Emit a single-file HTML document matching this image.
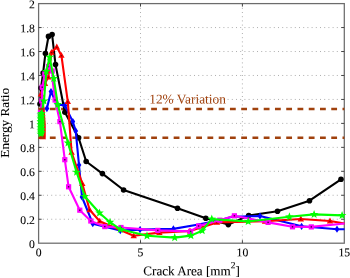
<!DOCTYPE html>
<html><head><meta charset="utf-8"><title>Energy Ratio vs Crack Area</title>
<style>html,body{margin:0;padding:0;background:#fff}svg{display:block}.t{font-family:"Liberation Serif","Times New Roman",serif}</style></head>
<body>
<svg width="350" height="278" viewBox="0 0 350 278">
<rect width="350" height="278" fill="#fff"/>
<g stroke="#a6a6a6" stroke-width="0.9" stroke-dasharray="1 3.2" fill="none">
<line x1="38.6" y1="219.24" x2="344.3" y2="219.24"/>
<line x1="38.6" y1="195.28" x2="344.3" y2="195.28"/>
<line x1="38.6" y1="171.32" x2="344.3" y2="171.32"/>
<line x1="38.6" y1="147.36" x2="344.3" y2="147.36"/>
<line x1="38.6" y1="123.40" x2="344.3" y2="123.40"/>
<line x1="38.6" y1="99.44" x2="344.3" y2="99.44"/>
<line x1="38.6" y1="75.48" x2="344.3" y2="75.48"/>
<line x1="38.6" y1="51.52" x2="344.3" y2="51.52"/>
<line x1="38.6" y1="27.56" x2="344.3" y2="27.56"/>
<line x1="140.50" y1="3.6" x2="140.50" y2="243.2"/>
<line x1="242.40" y1="3.6" x2="242.40" y2="243.2"/>
</g>
<rect x="38.6" y="3.6" width="305.70" height="239.60" fill="none" stroke="#6c6c6c" stroke-width="1.25"/>
<g stroke="#444" stroke-width="1">
<line x1="38.6" y1="219.24" x2="41.6" y2="219.24"/><line x1="344.3" y1="219.24" x2="341.3" y2="219.24"/>
<line x1="38.6" y1="195.28" x2="41.6" y2="195.28"/><line x1="344.3" y1="195.28" x2="341.3" y2="195.28"/>
<line x1="38.6" y1="171.32" x2="41.6" y2="171.32"/><line x1="344.3" y1="171.32" x2="341.3" y2="171.32"/>
<line x1="38.6" y1="147.36" x2="41.6" y2="147.36"/><line x1="344.3" y1="147.36" x2="341.3" y2="147.36"/>
<line x1="38.6" y1="123.40" x2="41.6" y2="123.40"/><line x1="344.3" y1="123.40" x2="341.3" y2="123.40"/>
<line x1="38.6" y1="99.44" x2="41.6" y2="99.44"/><line x1="344.3" y1="99.44" x2="341.3" y2="99.44"/>
<line x1="38.6" y1="75.48" x2="41.6" y2="75.48"/><line x1="344.3" y1="75.48" x2="341.3" y2="75.48"/>
<line x1="38.6" y1="51.52" x2="41.6" y2="51.52"/><line x1="344.3" y1="51.52" x2="341.3" y2="51.52"/>
<line x1="38.6" y1="27.56" x2="41.6" y2="27.56"/><line x1="344.3" y1="27.56" x2="341.3" y2="27.56"/>
<line x1="140.50" y1="243.2" x2="140.50" y2="240.2"/><line x1="140.50" y1="3.6" x2="140.50" y2="6.6"/>
<line x1="242.40" y1="243.2" x2="242.40" y2="240.2"/><line x1="242.40" y1="3.6" x2="242.40" y2="6.6"/>
</g>
<g stroke="#a0410d" stroke-width="2.4" stroke-dasharray="5.8 5.456" fill="none">
<line x1="38.6" y1="109.02" x2="344.3" y2="109.02"/>
<line x1="38.6" y1="137.78" x2="344.3" y2="137.78"/>
</g>
<g fill="#000" stroke="none">
<polyline fill="none" stroke="#000" stroke-width="2.1" stroke-linejoin="round" points="40,104 41,88 43.1,73 45.4,53.5 48.5,36.4 52.1,34.5 55.5,64.6 64.9,112.2 78.6,137.7 86.2,161.5 102.4,173.6 123.6,190.0 177.5,208.3 205.8,218.2 228.3,224.6 248.7,215.5 277.5,211.3 309.5,200.7 341,179.3"/>
<circle cx="40" cy="104" r="2.8"/>
<circle cx="41" cy="88" r="2.8"/>
<circle cx="43.1" cy="73" r="2.8"/>
<circle cx="45.4" cy="53.5" r="2.8"/>
<circle cx="48.5" cy="36.4" r="2.8"/>
<circle cx="52.1" cy="34.5" r="2.8"/>
<circle cx="55.5" cy="64.6" r="2.8"/>
<circle cx="64.9" cy="112.2" r="2.8"/>
<circle cx="78.6" cy="137.7" r="2.8"/>
<circle cx="86.2" cy="161.5" r="2.8"/>
<circle cx="102.4" cy="173.6" r="2.8"/>
<circle cx="123.6" cy="190.0" r="2.8"/>
<circle cx="177.5" cy="208.3" r="2.8"/>
<circle cx="205.8" cy="218.2" r="2.8"/>
<circle cx="228.3" cy="224.6" r="2.8"/>
<circle cx="248.7" cy="215.5" r="2.8"/>
<circle cx="277.5" cy="211.3" r="2.8"/>
<circle cx="309.5" cy="200.7" r="2.8"/>
<circle cx="341" cy="179.3" r="2.8"/>
</g>
<g fill="#0000ff" stroke="none">
<polyline fill="none" stroke="#0000ff" stroke-width="2.1" stroke-linejoin="round" points="46.9,108.6 51,91.6 57,104.5 64.9,105.4 72.8,121.6 75.7,130.9 79,165 82,197 92.8,223.7 120.3,230.6 140,229.6 173.4,228.9 197,224.7 220,220.2 232,216.8 260,216 301.6,226.3 337,229.2 344.5,229.3"/>
<polygon points="46.9,105.0 49.3,108.6 46.9,112.19999999999999 44.5,108.6"/>
<polygon points="51,88.0 53.4,91.6 51,95.19999999999999 48.6,91.6"/>
<polygon points="57,100.9 59.4,104.5 57,108.1 54.6,104.5"/>
<polygon points="64.9,101.80000000000001 67.30000000000001,105.4 64.9,109.0 62.50000000000001,105.4"/>
<polygon points="72.8,118.0 75.2,121.6 72.8,125.19999999999999 70.39999999999999,121.6"/>
<polygon points="75.7,127.30000000000001 78.10000000000001,130.9 75.7,134.5 73.3,130.9"/>
<polygon points="79,161.4 81.4,165 79,168.6 76.6,165"/>
<polygon points="82,193.4 84.4,197 82,200.6 79.6,197"/>
<polygon points="92.8,220.1 95.2,223.7 92.8,227.29999999999998 90.39999999999999,223.7"/>
<polygon points="120.3,227.0 122.7,230.6 120.3,234.2 117.89999999999999,230.6"/>
<polygon points="140,226.0 142.4,229.6 140,233.2 137.6,229.6"/>
<polygon points="173.4,225.3 175.8,228.9 173.4,232.5 171.0,228.9"/>
<polygon points="260,212.4 262.4,216 260,219.6 257.6,216"/>
<polygon points="301.6,222.70000000000002 304.0,226.3 301.6,229.9 299.20000000000005,226.3"/>
<polygon points="337,225.6 339.4,229.2 337,232.79999999999998 334.6,229.2"/>
</g>
<g fill="#ff0000" stroke="none">
<polyline fill="none" stroke="#ff0000" stroke-width="2.1" stroke-linejoin="round" points="39.8,137.2 42.9,136.8 44.7,137.2 44.7,124 43.5,108 41,94 45,83.5 48.3,77 51.5,52.3 56.8,47 61.4,55.4 67.8,101.7 71.6,152.3 82.3,183.7 89.6,209.8 99.7,221.2 133.7,235.8 159.4,232.6 190,231 217,222.4 265,221.3 300.8,219 330,221 344.5,223.5"/>
<polygon points="42.9,133.4 46.1,139.20000000000002 39.699999999999996,139.20000000000002"/><circle cx="42.9" cy="137.1" r="0.8" fill="#7a0000"/>
<polygon points="41,90.6 44.2,96.4 37.8,96.4"/><circle cx="41" cy="94.3" r="0.8" fill="#7a0000"/>
<polygon points="45,80.1 48.2,85.9 41.8,85.9"/><circle cx="45" cy="83.8" r="0.8" fill="#7a0000"/>
<polygon points="48.3,73.6 51.5,79.4 45.099999999999994,79.4"/><circle cx="48.3" cy="77.3" r="0.8" fill="#7a0000"/>
<polygon points="51.5,48.9 54.7,54.699999999999996 48.3,54.699999999999996"/><circle cx="51.5" cy="52.6" r="0.8" fill="#7a0000"/>
<polygon points="56.8,43.6 60.0,49.4 53.599999999999994,49.4"/><circle cx="56.8" cy="47.3" r="0.8" fill="#7a0000"/>
<polygon points="61.4,52.0 64.6,57.8 58.199999999999996,57.8"/><circle cx="61.4" cy="55.7" r="0.8" fill="#7a0000"/>
<polygon points="67.8,98.3 71.0,104.10000000000001 64.6,104.10000000000001"/><circle cx="67.8" cy="102.0" r="0.8" fill="#7a0000"/>
<polygon points="71.6,148.9 74.8,154.70000000000002 68.39999999999999,154.70000000000002"/><circle cx="71.6" cy="152.6" r="0.8" fill="#7a0000"/>
<polygon points="82.3,180.29999999999998 85.5,186.1 79.1,186.1"/><circle cx="82.3" cy="184.0" r="0.8" fill="#7a0000"/>
<polygon points="89.6,206.4 92.8,212.20000000000002 86.39999999999999,212.20000000000002"/><circle cx="89.6" cy="210.1" r="0.8" fill="#7a0000"/>
<polygon points="99.7,217.79999999999998 102.9,223.6 96.5,223.6"/><circle cx="99.7" cy="221.5" r="0.8" fill="#7a0000"/>
<polygon points="133.7,232.4 136.89999999999998,238.20000000000002 130.5,238.20000000000002"/><circle cx="133.7" cy="236.1" r="0.8" fill="#7a0000"/>
<polygon points="159.4,229.2 162.6,235.0 156.20000000000002,235.0"/><circle cx="159.4" cy="232.9" r="0.8" fill="#7a0000"/>
<polygon points="190,227.6 193.2,233.4 186.8,233.4"/><circle cx="190" cy="231.3" r="0.8" fill="#7a0000"/>
<polygon points="217,219.0 220.2,224.8 213.8,224.8"/><circle cx="217" cy="222.7" r="0.8" fill="#7a0000"/>
<polygon points="265,217.9 268.2,223.70000000000002 261.8,223.70000000000002"/><circle cx="265" cy="221.6" r="0.8" fill="#7a0000"/>
<polygon points="300.8,215.6 304.0,221.4 297.6,221.4"/><circle cx="300.8" cy="219.3" r="0.8" fill="#7a0000"/>
<polygon points="330,217.6 333.2,223.4 326.8,223.4"/><circle cx="330" cy="221.3" r="0.8" fill="#7a0000"/>
</g>
<g fill="#ff00ff" stroke="none">
<polyline fill="none" stroke="#ff00ff" stroke-width="2.1" stroke-linejoin="round" points="40.5,112 41.8,100.9 42.2,87.2 44.8,74 48.5,66.5 52.2,71 52.6,80.3 55.1,100 59.9,121.6 64.8,159.7 68.6,186.8 79.8,210.2 90.8,221.0 104.8,226.6 121,227.5 157.8,230.4 190.6,231.4 198.6,226 219.8,220.2 234.4,215.8 268.1,222.4 292.5,226.8 311.3,226.9 344.5,223.5"/>
<rect x="37.9" y="109.4" width="5.2" height="5.2"/><rect x="39.8" y="111.3" width="1.4" height="1.4" fill="#400040"/>
<rect x="39.2" y="98.3" width="5.2" height="5.2"/><rect x="41.1" y="100.2" width="1.4" height="1.4" fill="#400040"/>
<rect x="39.6" y="84.6" width="5.2" height="5.2"/><rect x="41.5" y="86.5" width="1.4" height="1.4" fill="#400040"/>
<rect x="42.2" y="71.4" width="5.2" height="5.2"/><rect x="44.1" y="73.3" width="1.4" height="1.4" fill="#400040"/>
<rect x="45.9" y="63.9" width="5.2" height="5.2"/><rect x="47.8" y="65.8" width="1.4" height="1.4" fill="#400040"/>
<rect x="49.6" y="68.4" width="5.2" height="5.2"/><rect x="51.5" y="70.3" width="1.4" height="1.4" fill="#400040"/>
<rect x="52.5" y="97.4" width="5.2" height="5.2"/><rect x="54.4" y="99.3" width="1.4" height="1.4" fill="#400040"/>
<rect x="57.3" y="119.0" width="5.2" height="5.2"/><rect x="59.2" y="120.9" width="1.4" height="1.4" fill="#400040"/>
<rect x="62.2" y="157.1" width="5.2" height="5.2"/><rect x="64.1" y="159.0" width="1.4" height="1.4" fill="#400040"/>
<rect x="66.0" y="184.2" width="5.2" height="5.2"/><rect x="67.9" y="186.1" width="1.4" height="1.4" fill="#400040"/>
<rect x="77.2" y="207.6" width="5.2" height="5.2"/><rect x="79.1" y="209.5" width="1.4" height="1.4" fill="#400040"/>
<rect x="88.2" y="218.4" width="5.2" height="5.2"/><rect x="90.1" y="220.3" width="1.4" height="1.4" fill="#400040"/>
<rect x="102.2" y="224.0" width="5.2" height="5.2"/><rect x="104.1" y="225.9" width="1.4" height="1.4" fill="#400040"/>
<rect x="118.4" y="224.9" width="5.2" height="5.2"/><rect x="120.3" y="226.8" width="1.4" height="1.4" fill="#400040"/>
<rect x="155.2" y="227.8" width="5.2" height="5.2"/><rect x="157.1" y="229.7" width="1.4" height="1.4" fill="#400040"/>
<rect x="188.0" y="228.8" width="5.2" height="5.2"/><rect x="189.9" y="230.7" width="1.4" height="1.4" fill="#400040"/>
<rect x="196.0" y="223.4" width="5.2" height="5.2"/><rect x="197.9" y="225.3" width="1.4" height="1.4" fill="#400040"/>
<rect x="217.2" y="217.6" width="5.2" height="5.2"/><rect x="219.1" y="219.5" width="1.4" height="1.4" fill="#400040"/>
<rect x="231.8" y="213.2" width="5.2" height="5.2"/><rect x="233.7" y="215.1" width="1.4" height="1.4" fill="#400040"/>
<rect x="265.5" y="219.8" width="5.2" height="5.2"/><rect x="267.4" y="221.7" width="1.4" height="1.4" fill="#400040"/>
<rect x="289.9" y="224.2" width="5.2" height="5.2"/><rect x="291.8" y="226.1" width="1.4" height="1.4" fill="#400040"/>
<rect x="308.7" y="224.3" width="5.2" height="5.2"/><rect x="310.6" y="226.2" width="1.4" height="1.4" fill="#400040"/>
</g>
<g fill="#00ff00" stroke="none">
<polyline fill="none" stroke="#00ff00" stroke-width="2.1" stroke-linejoin="round" points="40.8,134.2 41.4,132.6 40.8,131.0 41.4,129.4 40.8,127.8 41.4,126.2 40.8,124.6 41.4,123.0 40.8,121.4 41.4,119.8 40.8,118.2 41.4,116.6 40.8,115.0 41.4,113.4 44,101 46.3,71.5 49.6,57.2 53.8,78.5 57.7,104.5 68,142.9 76.6,172.2 84.8,196.5 99.5,213 110,222.2 120.3,229.3 147,235.8 174.7,237.6 190.9,235.6 202.2,230.7 211.8,219.1 248.2,221.5 289.4,216.8 314.1,214.4 342.1,215.4"/>
<polygon points="40.8,129.7 41.9,132.7 45.1,132.8 42.6,134.8 43.4,137.8 40.8,136.1 38.2,137.8 39.0,134.8 36.5,132.8 39.7,132.7"/>
<polygon points="41.4,128.1 42.5,131.1 45.7,131.2 43.2,133.2 44.0,136.2 41.4,134.5 38.8,136.2 39.6,133.2 37.1,131.2 40.3,131.1"/>
<polygon points="40.8,126.5 41.9,129.5 45.1,129.6 42.6,131.6 43.4,134.6 40.8,132.9 38.2,134.6 39.0,131.6 36.5,129.6 39.7,129.5"/>
<polygon points="41.4,124.9 42.5,127.9 45.7,128.0 43.2,130.0 44.0,133.0 41.4,131.3 38.8,133.0 39.6,130.0 37.1,128.0 40.3,127.9"/>
<polygon points="40.8,123.3 41.9,126.3 45.1,126.4 42.6,128.4 43.4,131.4 40.8,129.7 38.2,131.4 39.0,128.4 36.5,126.4 39.7,126.3"/>
<polygon points="41.4,121.7 42.5,124.7 45.7,124.8 43.2,126.8 44.0,129.8 41.4,128.1 38.8,129.8 39.6,126.8 37.1,124.8 40.3,124.7"/>
<polygon points="40.8,120.1 41.9,123.1 45.1,123.2 42.6,125.2 43.4,128.2 40.8,126.5 38.2,128.2 39.0,125.2 36.5,123.2 39.7,123.1"/>
<polygon points="41.4,118.5 42.5,121.5 45.7,121.6 43.2,123.6 44.0,126.6 41.4,124.9 38.8,126.6 39.6,123.6 37.1,121.6 40.3,121.5"/>
<polygon points="40.8,116.9 41.9,119.9 45.1,120.0 42.6,122.0 43.4,125.0 40.8,123.3 38.2,125.0 39.0,122.0 36.5,120.0 39.7,119.9"/>
<polygon points="41.4,115.3 42.5,118.3 45.7,118.4 43.2,120.4 44.0,123.4 41.4,121.7 38.8,123.4 39.6,120.4 37.1,118.4 40.3,118.3"/>
<polygon points="40.8,113.7 41.9,116.7 45.1,116.8 42.6,118.8 43.4,121.8 40.8,120.1 38.2,121.8 39.0,118.8 36.5,116.8 39.7,116.7"/>
<polygon points="41.4,112.1 42.5,115.1 45.7,115.2 43.2,117.2 44.0,120.2 41.4,118.5 38.8,120.2 39.6,117.2 37.1,115.2 40.3,115.1"/>
<polygon points="40.8,110.5 41.9,113.5 45.1,113.6 42.6,115.6 43.4,118.6 40.8,116.9 38.2,118.6 39.0,115.6 36.5,113.6 39.7,113.5"/>
<polygon points="41.4,108.9 42.5,111.9 45.7,112.0 43.2,114.0 44.0,117.0 41.4,115.3 38.8,117.0 39.6,114.0 37.1,112.0 40.3,111.9"/>
<polygon points="44.0,96.5 45.1,99.5 48.3,99.6 45.8,101.6 46.6,104.6 44.0,102.9 41.4,104.6 42.2,101.6 39.7,99.6 42.9,99.5"/>
<polygon points="46.3,67.0 47.4,70.0 50.6,70.1 48.1,72.1 48.9,75.1 46.3,73.4 43.7,75.1 44.5,72.1 42.0,70.1 45.2,70.0"/>
<polygon points="49.6,52.7 50.7,55.7 53.9,55.8 51.4,57.8 52.2,60.8 49.6,59.1 47.0,60.8 47.8,57.8 45.3,55.8 48.5,55.7"/>
<polygon points="53.8,74.0 54.9,77.0 58.1,77.1 55.6,79.1 56.4,82.1 53.8,80.4 51.2,82.1 52.0,79.1 49.5,77.1 52.7,77.0"/>
<polygon points="57.7,100.0 58.8,103.0 62.0,103.1 59.5,105.1 60.3,108.1 57.7,106.4 55.1,108.1 55.9,105.1 53.4,103.1 56.6,103.0"/>
<polygon points="68.0,138.4 69.1,141.4 72.3,141.5 69.8,143.5 70.6,146.5 68.0,144.8 65.4,146.5 66.2,143.5 63.7,141.5 66.9,141.4"/>
<polygon points="76.6,167.7 77.7,170.7 80.9,170.8 78.4,172.8 79.2,175.8 76.6,174.1 74.0,175.8 74.8,172.8 72.3,170.8 75.5,170.7"/>
<polygon points="84.8,192.0 85.9,195.0 89.1,195.1 86.6,197.1 87.4,200.1 84.8,198.4 82.2,200.1 83.0,197.1 80.5,195.1 83.7,195.0"/>
<polygon points="99.5,208.5 100.6,211.5 103.8,211.6 101.3,213.6 102.1,216.6 99.5,214.9 96.9,216.6 97.7,213.6 95.2,211.6 98.4,211.5"/>
<polygon points="110.0,217.7 111.1,220.7 114.3,220.8 111.8,222.8 112.6,225.8 110.0,224.1 107.4,225.8 108.2,222.8 105.7,220.8 108.9,220.7"/>
<polygon points="120.3,224.8 121.4,227.8 124.6,227.9 122.1,229.9 122.9,232.9 120.3,231.2 117.7,232.9 118.5,229.9 116.0,227.9 119.2,227.8"/>
<polygon points="147.0,231.3 148.1,234.3 151.3,234.4 148.8,236.4 149.6,239.4 147.0,237.7 144.4,239.4 145.2,236.4 142.7,234.4 145.9,234.3"/>
<polygon points="174.7,233.1 175.8,236.1 179.0,236.2 176.5,238.2 177.3,241.2 174.7,239.5 172.1,241.2 172.9,238.2 170.4,236.2 173.6,236.1"/>
<polygon points="190.9,231.1 192.0,234.1 195.2,234.2 192.7,236.2 193.5,239.2 190.9,237.5 188.3,239.2 189.1,236.2 186.6,234.2 189.8,234.1"/>
<polygon points="202.2,226.2 203.3,229.2 206.5,229.3 204.0,231.3 204.8,234.3 202.2,232.6 199.6,234.3 200.4,231.3 197.9,229.3 201.1,229.2"/>
<polygon points="211.8,214.6 212.9,217.6 216.1,217.7 213.6,219.7 214.4,222.7 211.8,221.0 209.2,222.7 210.0,219.7 207.5,217.7 210.7,217.6"/>
<polygon points="248.2,217.0 249.3,220.0 252.5,220.1 250.0,222.1 250.8,225.1 248.2,223.4 245.6,225.1 246.4,222.1 243.9,220.1 247.1,220.0"/>
<polygon points="289.4,212.3 290.5,215.3 293.7,215.4 291.2,217.4 292.0,220.4 289.4,218.7 286.8,220.4 287.6,217.4 285.1,215.4 288.3,215.3"/>
<polygon points="314.1,209.9 315.2,212.9 318.4,213.0 315.9,215.0 316.7,218.0 314.1,216.3 311.5,218.0 312.3,215.0 309.8,213.0 313.0,212.9"/>
<polygon points="342.1,210.9 343.2,213.9 346.4,214.0 343.9,216.0 344.7,219.0 342.1,217.3 339.5,219.0 340.3,216.0 337.8,214.0 341.0,213.9"/>
</g>
<g stroke="#a0410d" stroke-width="2.4"><line x1="38.6" y1="109.02" x2="44.4" y2="109.02"/><line x1="38.6" y1="137.78" x2="44.4" y2="137.78" stroke="#b02a08"/></g>
<g class="t" fill="#000" stroke="#000" stroke-width="0.08">
<g font-size="11.7px" text-anchor="end">
<text transform="translate(34.9,247.95) rotate(0.03)">0</text>
<text transform="translate(34.9,223.99) rotate(0.03)">0.2</text>
<text transform="translate(34.9,200.03) rotate(0.03)">0.4</text>
<text transform="translate(34.9,176.07) rotate(0.03)">0.6</text>
<text transform="translate(34.9,152.11) rotate(0.03)">0.8</text>
<text transform="translate(34.9,128.15) rotate(0.03)">1</text>
<text transform="translate(34.9,104.19) rotate(0.03)">1.2</text>
<text transform="translate(34.9,80.23) rotate(0.03)">1.4</text>
<text transform="translate(34.9,56.27) rotate(0.03)">1.6</text>
<text transform="translate(34.9,32.31) rotate(0.03)">1.8</text>
<text transform="translate(34.9,8.35) rotate(0.03)">2</text>
</g>
<g font-size="11.7px" text-anchor="middle">
<text transform="translate(38.6,256.2) rotate(0.03)">0</text>
<text transform="translate(140.5,256.2) rotate(0.03)">5</text>
<text transform="translate(242.4,256.2) rotate(0.03)">10</text>
<text transform="translate(344.3,256.2) rotate(0.03)">15</text>
</g>
<text font-size="13.15px" text-anchor="middle" transform="translate(191.6,275.3) rotate(0.03)">Crack Area [mm<tspan font-size="9.5px" dy="-7">2</tspan><tspan dy="7">]</tspan></text>
<text font-size="13.2px" text-anchor="middle" transform="translate(8.9,122.8) rotate(-90)">Energy Ratio</text>
<text font-size="13.4px" transform="translate(149.2,103.4) rotate(0.03)" fill="#a0410d" stroke="none">12% Variation</text>
</g>
</svg>
</body></html>
